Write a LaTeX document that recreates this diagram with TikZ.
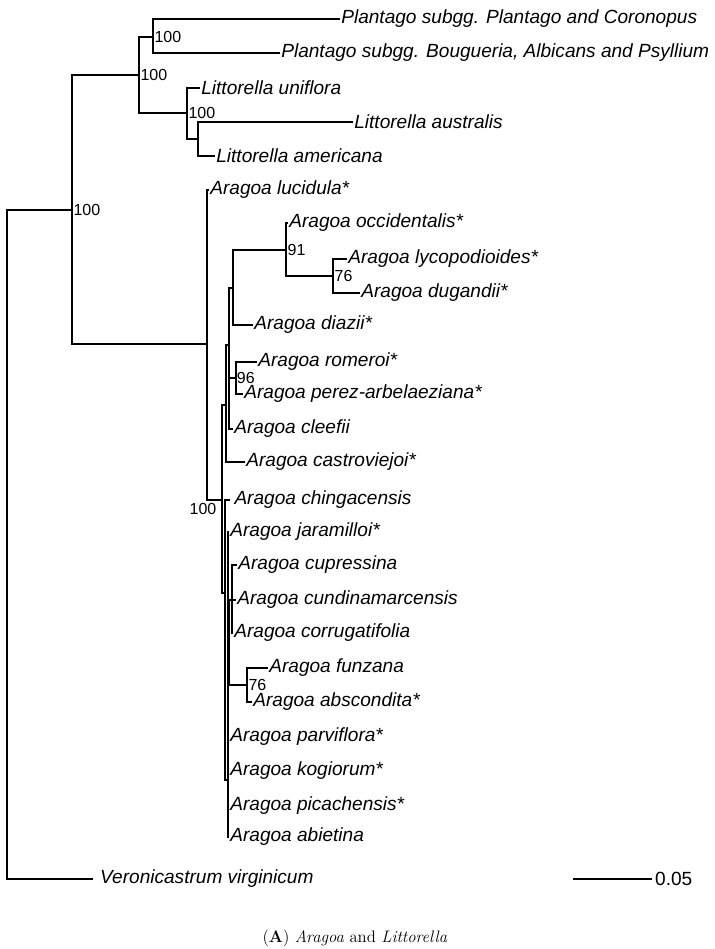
\documentclass[tikz,border=0pt]{standalone}
\usepackage{fontspec}
\setsansfont{Liberation Sans}
\usetikzlibrary{positioning}

\begin{document}
\begin{tikzpicture}[x=0.75pt,y=-0.75pt,line width=0.8pt]
        % Styles for tips and support values
        \tikzset{tip/.style={anchor=west, inner xsep=0.6pt, inner ysep=0pt,
                             font=\fontsize{14.3}{16}\sffamily\itshape}}
        \tikzset{boot/.style={anchor=west, inner sep=0.8pt,
                              font=\fontsize{12}{14}\sffamily}}
        \useasboundingbox (0,0) rectangle (714,949);

        % Internal nodes (x = depth, y = stem)
        \coordinate (root)  at (7,500);
        \coordinate (ingr)  at (72,210);
        \coordinate (plli)  at (139,75);
        \coordinate (plan)  at (153,37);
        \coordinate (litt)  at (187,113);
        \coordinate (litts) at (198,139);
        \coordinate (arA)   at (207,344);
        \coordinate (arB)   at (222,500);
        \coordinate (arC)   at (226,405);
        \coordinate (arD)   at (229,345);
        \coordinate (arE)   at (233,288);
        \coordinate (cl91)  at (286,250);
        \coordinate (cl76a) at (333,276);
        \coordinate (cl96)  at (236,378);
        \coordinate (arF)   at (225,593);
        \coordinate (arH)   at (228,780);
        \coordinate (arI)   at (229,640);
        \coordinate (arJ)   at (232,600);
        \coordinate (cl76b) at (247,685);

        % Tips
        \node[tip] at (340,19)  (plan1) {Plantago subgg. Plantago and Coronopus};
        \node[tip] at (280,53)  (plan2) {Plantago subgg. Bougueria, Albicans and Psyllium};
        \node[tip] at (200,88)  (unif)  {Littorella uniflora};
        \node[tip] at (353,122) (aust)  {Littorella australis};
        \node[tip] at (215,156) (amer)  {Littorella americana};
        \node[tip] at (209,190) (luci)  {Aragoa lucidula*};
        \node[tip] at (288,223) (occi)  {Aragoa occidentalis*};
        \node[tip] at (347,259) (lyco)  {Aragoa lycopodioides*};
        \node[tip] at (360,293) (duga)  {Aragoa dugandii*};
        \node[tip] at (253,325) (diaz)  {Aragoa diazii*};
        \node[tip] at (257,362) (rome)  {Aragoa romeroi*};
        \node[tip] at (243,394) (pere)  {Aragoa perez-arbelaeziana*};
        \node[tip] at (233,429) (clee)  {Aragoa cleefii};
        \node[tip] at (245,462) (cast)  {Aragoa castroviejoi*};
        \node[tip] at (230,500) (chin)  {\,Aragoa chingacensis};
        \node[tip] at (229,532) (jara)  {Aragoa jaramilloi*};
        \node[tip] at (237,565) (cupr)  {Aragoa cupressina};
        \node[tip] at (236,600) (cund)  {Aragoa cundinamarcensis};
        \node[tip] at (233,633) (corr)  {Aragoa corrugatifolia};
        \node[tip] at (268,668) (funz)  {Aragoa funzana};
        \node[tip] at (252,702) (absc)  {Aragoa abscondita*};
        \node[tip] at (229,737) (parv)  {Aragoa parviflora*};
        \node[tip] at (229,771) (kogi)  {Aragoa kogiorum*};
        \node[tip] at (229,806) (pica)  {Aragoa picachensis*};
        \node[tip] at (229,837) (abie)  {Aragoa abietina};
        \node[tip, inner xsep=5pt] at (93,879) (vero) {Veronicastrum virginicum};

        % Branches
        \draw (root) |- (ingr)  (root) |- (vero.west);
        \draw (ingr) |- (plli)  (ingr) |- (arA);
        \draw (plli) |- (plan)  (plli) |- (litt);
        \draw (plan) |- (plan1.west)  (plan) |- (plan2.west);
        \draw (litt) |- (unif.west)   (litt) |- (litts);
        \draw (litts) |- (aust.west)  (litts) |- (amer.west);
        \draw (arA) |- (luci.west)    (arA) |- (arB);
        \draw (arB) |- (arC)          (arB) |- (arF);
        \draw (arC) |- (arD)          (arC) |- (cast.west);
        \draw (arD) |- (arE)  (arD) |- (cl96)  (arD) |- (clee.west);
        \draw (arE) |- (cl91)         (arE) |- (diaz.west);
        \draw (cl91) |- (occi.west)   (cl91) |- (cl76a);
        \draw (cl76a) |- (lyco.west)  (cl76a) |- (duga.west);
        \draw (cl96) |- (rome.west)   (cl96) |- (pere.west);
        \draw (arF) |- (chin.west)    (arF) |- (arH);
        \draw (arH) |- (jara.west)  (arH) |- (arI)  (arH) |- (parv.west)
              (arH) |- (kogi.west)  (arH) |- (pica.west)  (arH) |- (abie.west);
        \draw (arI) |- (arJ)          (arI) |- (cl76b);
        \draw (arJ) |- (cupr.west)  (arJ) |- (cund.west)  (arJ) |- (corr.west);
        \draw (cl76b) |- (funz.west)  (cl76b) |- (absc.west);

        % Support values
        \node[boot] at (ingr)  {100};
        \node[boot] at (plli)  {100};
        \node[boot] at (plan)  {100};
        \node[boot] at (litt)  {100};
        \node[boot] at (cl91)  {91};
        \node[boot] at (cl76a) {76};
        \node[boot, inner xsep=0.3pt] at (cl96) {96};
        \node[boot] at (cl76b) {76};
        \node[boot, anchor=north] at (203,502) {100};

        % Scale bar
        \coordinate (sbl) at (573,879);
        \coordinate (sbr) at (652,879);
        \draw (sbl) -- (sbr) node[anchor=west, inner sep=2pt,
              font=\fontsize{14.3}{16}\sffamily] (sbtxt) {0.05};

        % Caption
        \node[font=\fontsize{12.5}{14}\selectfont] at (355,938) (capt)
              {(\textbf{A}) \textit{Aragoa} and \textit{Littorella}};
\end{tikzpicture}
\end{document}
